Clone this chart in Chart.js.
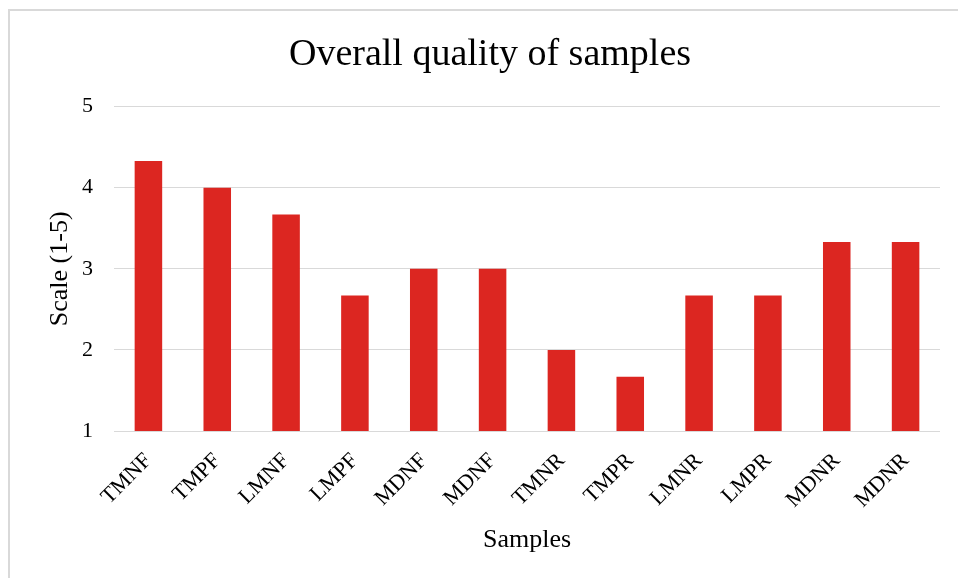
<!DOCTYPE html>
<html>
<head>
<meta charset="utf-8">
<script src="https://cdn.jsdelivr.net/npm/chart.js@4.4.0/dist/chart.umd.min.js"></script>
<style>
html,body{margin:0;padding:0;background:#fff;}
#wrap{position:absolute;left:0;top:0;width:958px;height:578px;}
</style>
</head>
<body>
<div id="wrap"><canvas id="c" width="958" height="578"></canvas></div>
<script>
const categories = ["TMNF","TMPF","LMNF","LMPF","MDNF","MDNF","TMNR","TMPR","LMNR","LMPR","MDNR","MDNR"];
const qualityValues = [4.33, 4.0, 3.67, 2.67, 3.0, 3.0, 2.0, 1.67, 2.67, 2.67, 3.33, 3.33];
const yTicks = [1, 2, 3, 4, 5];
const chartTitle = "Overall quality of samples";
const xTitle = "Samples";
const yTitle = "Scale (1-5)";

const FONT = "'Liberation Serif','Times New Roman',serif";

const frame = {
  id: 'frame',
  beforeDraw(chart) {
    const ctx = chart.ctx;
    ctx.save();
    ctx.fillStyle = '#fff';
    ctx.fillRect(0, 0, chart.width, chart.height);
    ctx.strokeStyle = '#d9d9d9';
    ctx.lineWidth = 2;
    ctx.beginPath();
    ctx.moveTo(9, chart.height + 5);
    ctx.lineTo(9, 10);
    ctx.lineTo(chart.width + 5, 10);
    ctx.stroke();
    ctx.restore();
  }
};

new Chart(document.getElementById('c'), {
  type: 'bar',
  data: {
    labels: categories,
    datasets: [{
      data: qualityValues,
      backgroundColor: '#DC2621',
      borderWidth: 0,
      barPercentage: 0.4,
      categoryPercentage: 1.0
    }]
  },
  options: {
    responsive: false,
    animation: false,
    events: [],
    layout: { padding: { top: 32, right: 18, bottom: 20, left: 40 } },
    plugins: {
      legend: { display: false },
      tooltip: { enabled: false },
      title: {
        display: true,
        text: chartTitle,
        color: '#000',
        font: { family: FONT, size: 38, weight: 'normal', lineHeight: 1.2 },
        padding: { top: 0, bottom: 29 }
      }
    },
    scales: {
      x: {
        afterFit(scale) { scale.height = 127; },
        grid: { display: false, drawTicks: false },
        border: { display: false },
        ticks: {
          color: '#000',
          font: { family: FONT, size: 22 },
          maxRotation: 45,
          minRotation: 45,
          padding: 17,
          autoSkip: false
        },
        title: {
          display: true,
          text: xTitle,
          color: '#000',
          font: { family: FONT, size: 26 },
          padding: { top: 0, bottom: 2 }
        }
      },
      y: {
        min: 1,
        max: 5,
        afterBuildTicks(scale) { scale.ticks = yTicks.map(v => ({ value: v })); },
        afterFit(scale) { scale.width = 74; },
        grid: { color: '#d9d9d9', lineWidth: 1, drawTicks: false },
        border: { display: false },
        ticks: {
          color: '#000',
          font: { family: FONT, size: 22 },
          padding: 21
        },
        title: {
          display: true,
          text: yTitle,
          color: '#000',
          font: { family: FONT, size: 26 },
          padding: { top: 5, bottom: 0 }
        }
      }
    }
  },
  plugins: [frame]
});
</script>
</body>
</html>
